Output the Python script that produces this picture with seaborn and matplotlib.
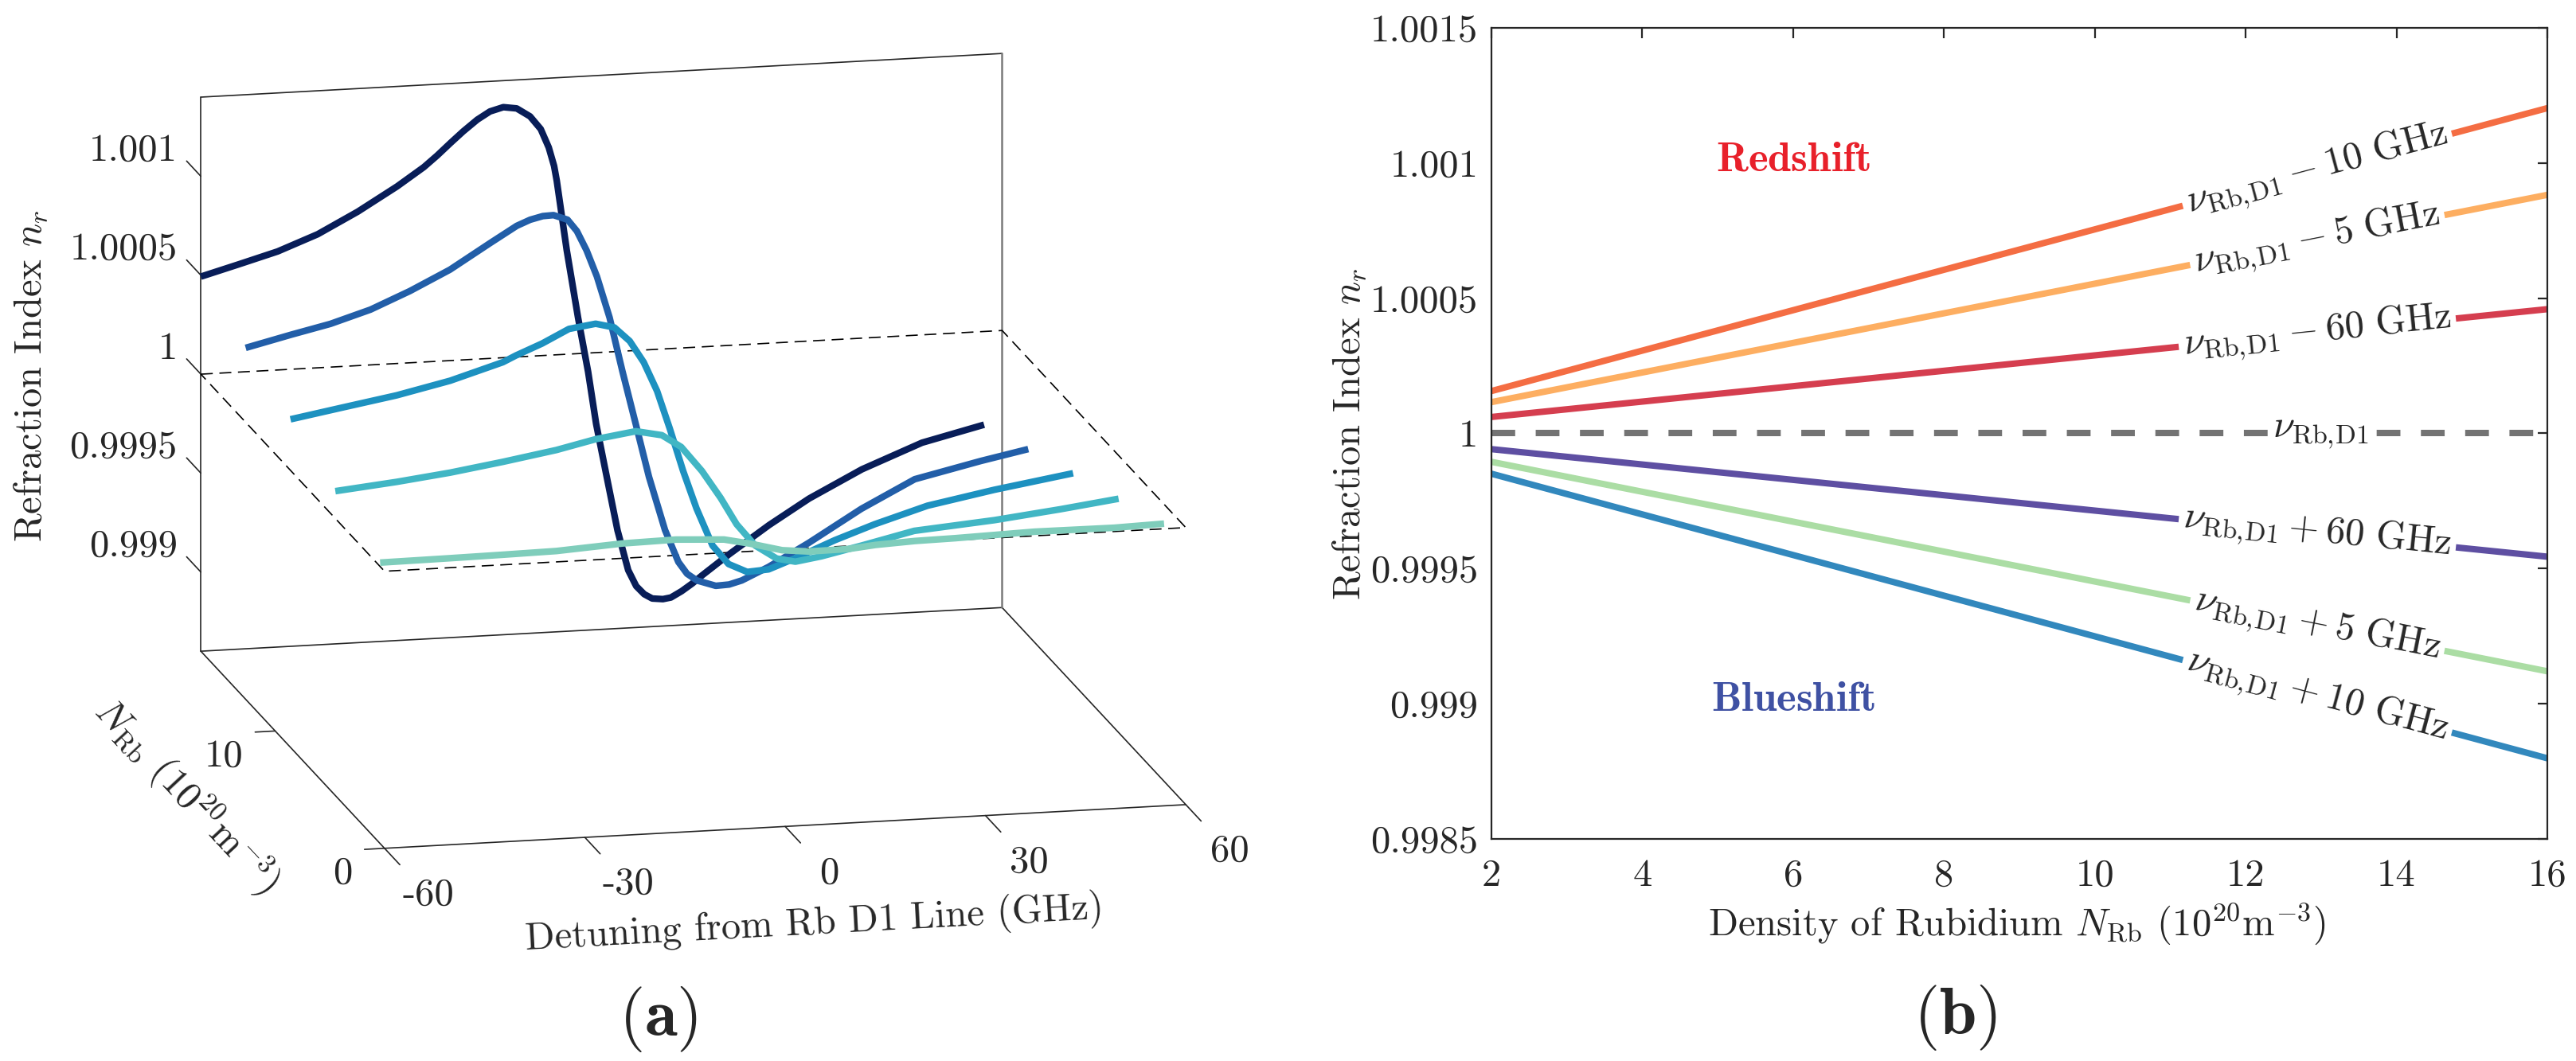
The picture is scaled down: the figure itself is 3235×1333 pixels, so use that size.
import numpy as np
import pandas as pd
import matplotlib
matplotlib.use("Agg")
import matplotlib.pyplot as plt
import seaborn as sns

sns.set_theme(style="white")
plt.rcParams["font.family"] = ["cmr10", "DejaVu Serif"]
plt.rcParams["mathtext.fontset"] = "cm"
plt.rcParams["axes.unicode_minus"] = False
plt.rcParams["axes.formatter.use_mathtext"] = True

# ---------------- panel (a): dispersion curves at several densities ----------------
densities_a = [16.8, 12.7, 8.6, 4.5, 0.4]
colors_a = ["#081d58", "#225ea8", "#1d91c0", "#41b6c4", "#7fcdbb"]

det_a1 = [-60, -54.4, -48.5, -42.5, -36.5, -30.6, -26.6, -24.6, -22.6, -20.7, -18.6, -16.7,
          -14.7, -12.7, -10.7, -9.1, -7.9, -7.1, -6.7, -5.2, -3.5, -2.0, -0.8, 0.8, 2.4, 4.0,
          5.2, 6.4, 7.6, 9.2, 10.4, 12.0, 13.6, 15.1, 19.1, 25.1, 31.1, 39.0, 48.0, 57.3]
n_a1 = [1.000493, 1.000544, 1.000599, 1.000675, 1.000778, 1.000895, 1.000985, 1.001040,
        1.001100, 1.001155, 1.001210, 1.001248, 1.001266, 1.001256, 1.001212, 1.001145,
        1.001050, 1.000955, 1.000880, 1.000525, 1.00018, 0.999905, 0.99964, 0.999367,
        0.999096, 0.998892, 0.998809, 0.998766, 0.998742, 0.998736, 0.998742, 0.998771,
        0.998807, 0.998846, 0.998944, 0.999081, 0.999204, 0.999337, 0.999455, 0.999529]

det_a2 = [-60, -53.2, -47.3, -41.3, -35.4, -29.4, -23.4, -19.4, -17.4, -15.5, -13.9, -11.8,
          -10.4, -8.95, -7.4, -5.5, -3.6, -1.6, 0.4, 2.8, 4.8, 6.1, 7.6, 10.4, 12.4, 14.3,
          18.3, 24.3, 32.2, 40.2, 50.1, 57.2]
n_a2 = [1.000376, 1.00043, 1.000474, 1.000535, 1.000618, 1.000715, 1.000838, 1.000918,
        1.000945, 1.000960, 1.000962, 1.000935, 1.000875, 1.000775, 1.000640, 1.000429,
        1.000157, 0.999886, 0.999613, 0.99934, 0.999175, 0.999113, 0.999076, 0.999044,
        0.999047, 0.999064, 0.999125, 0.999235, 0.999393, 0.999528, 0.999602, 0.999649]

det_a3 = [-60, -52.1, -44.1, -36.1, -28.2, -26.2, -22.3, -18.3, -14.3, -11.5, -9.2, -7.1,
          -5.1, -3.2, -1.2, 0.8, 3.2, 5.6, 8.4, 11.6, 15.5, 21.5, 27.5, 35.4, 45.4, 57.2]
n_a3 = [1.000258, 1.000304, 1.00035, 1.000409, 1.000488, 1.000519, 1.000572, 1.000638,
        1.000657, 1.000633, 1.00056, 1.000449, 1.0003, 1.000107, 0.999889, 0.999696,
        0.999504, 0.999406, 0.999361, 0.999368, 0.999416, 0.999497, 0.999567, 0.999646,
        0.999708, 0.99977]

det_a4 = [-60, -50.8, -42.8, -34.9, -26.9, -21.0, -15.0, -11.1, -8.2, -5.1, -2.3, 0.1, 2.9,
          6.1, 8.9, 12.8, 18.8, 26.7, 38.7, 48.6, 57.3]
n_a4 = [1.000138, 1.000168, 1.0002, 1.00024, 1.000285, 1.000329, 1.000358, 1.000331,
        1.000266, 1.000139, 0.999998, 0.99986, 0.999747, 0.999676, 0.999655, 0.999675,
        0.999718, 0.999778, 0.99981, 0.999847, 0.999884]

det_a5 = [-60, -49.5, -41.6, -33.6, -23.7, -15.7, -8.5, -4.6, 0.2, 4.2, 10.2, 14.2, 20.1,
          26.1, 38.0, 49.9, 57.4]
n_a5 = [1.00002, 1.000023, 1.000026, 1.00003, 1.00005, 1.000055, 1.000042, 1.000014,
        0.999972, 0.999958, 0.99996, 0.999973, 0.999982, 0.999985, 0.999996, 0.999994,
        1.000001]

det_curves = [det_a1, det_a2, det_a3, det_a4, det_a5]
n_curves = [n_a1, n_a2, n_a3, n_a4, n_a5]

xlim_a = (-60, 60)
ylim_a = (0, 16.8)
zlim_a = (0.9986, 1.0014)
xticks_a = [-60, -30, 0, 30, 60]
yticks_a = [0, 10]
zticks_a = [0.999, 0.9995, 1.0, 1.0005, 1.001]
zticklabels_a = ["0.999", "0.9995", "1", "1.0005", "1.001"]

# ---------------- panel (b): index vs density ----------------
density_b = [2, 16]
n_minus10 = [1.000156, 1.001203]
n_minus5 = [1.000115, 1.000882]
n_minus60 = [1.00006, 1.000459]
n_center = [1.0, 1.0]
n_plus60 = [0.999941, 0.999543]
n_plus5 = [0.999894, 0.999119]
n_plus10 = [0.99985, 0.998797]
names_b = ["-10", "-5", "-60", "+60", "+5", "+10"]
values_b = [n_minus10, n_minus5, n_minus60, n_plus60, n_plus5, n_plus10]
colors_b = ["#f46d43", "#fdae61", "#d53e4f", "#5e4fa2", "#abdda4", "#3288bd"]
nu = r"\nu_{\mathrm{Rb,\!D1}}"
labels_b = [rf"${nu} - 10\ \mathrm{{GHz}}$",
            rf"${nu} - 5\ \mathrm{{GHz}}$",
            rf"${nu} - 60\ \mathrm{{GHz}}$",
            rf"${nu} + 60\ \mathrm{{GHz}}$",
            rf"${nu} + 5\ \mathrm{{GHz}}$",
            rf"${nu} + 10\ \mathrm{{GHz}}$"]
yticks_b = [0.9985, 0.999, 0.9995, 1.0, 1.0005, 1.001, 1.0015]
yticklabels_b = ["0.9985", "0.999", "0.9995", "1", "1.0005", "1.001", "1.0015"]

W, H = 3235, 1333
fig = plt.figure(figsize=(W / 200, H / 200), dpi=200)
fs = 17.5
dark = "#262626"

# ================= (a) 3-D view =================
ax3 = fig.add_axes([0.0, 0.0, 0.55, 1.0], projection="3d")
ax3.set_proj_type("ortho")
ax3.view_init(elev=14.0, azim=-102.7)
box_aspect = (1031.3, 1049.0, 717.3)
zoom = 1.0
ax3.set_box_aspect(box_aspect, zoom=zoom)
ax3.set_axis_off()
ax3.patch.set_alpha(0)
ax3.computed_zorder = False
ax3.set_xlim(*xlim_a)
ax3.set_ylim(*ylim_a)
ax3.set_zlim(*zlim_a)

x0, x1 = xlim_a
y0, y1 = ylim_a
z0, z1 = zlim_a
# box edges (back wall + floor)
edges = [((x0, x0), (y1, y1), (z0, z1)), ((x0, x1), (y1, y1), (z1, z1)),
         ((x0, x1), (y1, y1), (z0, z0)), ((x0, x0), (y0, y1), (z0, z0)),
         ((x0, x1), (y0, y0), (z0, z0)), ((x1, x1), (y0, y1), (z0, z0))]
for ex, ey, ez in edges:
    ax3.plot(ex, ey, ez, color=dark, lw=0.6, zorder=1)
ax3.plot((x1, x1), (y1, y1), (z0, z1), color="#7a7a7a", lw=0.9, zorder=1)

# dashed outline of the n = 1 plane
ax3.plot([x0, x1, x1, x0, x0], [y1, y1, y0, y0, y1], [1, 1, 1, 1, 1],
         color="black", lw=0.6, ls=(0, (9, 5)), zorder=2)

for k, (dens, det, nv, col) in enumerate(zip(densities_a, det_curves, n_curves, colors_a)):
    ax3.plot(det, np.full(len(det), dens), nv, color=col, lw=3.0,
             solid_capstyle="butt", solid_joinstyle="round", zorder=3 + k)

# ticks and tick labels
for zt, lab in zip(zticks_a, zticklabels_a):
    ax3.plot((x0, x0), (y1, y1 + 1.3), (zt, zt), color=dark, lw=0.6, zorder=1)
    ax3.text(x0, y1 + 2.15, zt, lab, ha="right", va="center", fontsize=fs)
for xt in xticks_a:
    ax3.plot((xt, xt), (y0, y0 - 1.4), (z0, z0), color=dark, lw=0.6, zorder=1)
    ax3.text(xt, y0 - 4.0, z0, str(xt), ha="center", va="center", fontsize=fs)
for yt in yticks_a:
    ax3.plot((x0, x0 - 3.0), (yt, yt), (z0, z0), color=dark, lw=0.6, zorder=1)
    ax3.text(x0 - 4.8, yt, z0 - 0.00003, str(yt), ha="right", va="top", fontsize=fs)

# fit the projected box onto the reference position
corners = [(x0, y1, z0), (x1, y1, z0), (x0, y0, z0), (x1, y0, z0), (x0, y1, z1), (x1, y1, z1)]
target = np.array([[252.3, 818.3], [1258.3, 763.3], [483.3, 1066.0],
                   [1489.0, 1011.0], [252.3, 122.7], [1258.3, 66.0]])
target = np.column_stack([target[:, 0], H - target[:, 1]])


def projected(ax):
    fig.canvas.draw()
    M = ax.get_proj()
    pts = []
    for cx, cy, cz in corners:
        v = M @ np.array([cx, cy, cz, 1.0])
        pts.append(ax.transData.transform((v[0] / v[3], v[1] / v[3])))
    return np.array(pts), ax.transData.transform((0.0, 0.0))


for _ in range(3):
    cur, origin = projected(ax3)
    c = cur.mean(0)
    t = target.mean(0)
    s = np.sum((cur - c) * (target - t)) / np.sum((cur - c) ** 2)
    zoom *= s
    ax3.set_box_aspect(box_aspect, zoom=zoom)
    new_c = origin + s * (c - origin)
    shift = (t - new_c) / np.array([W, H])
    pos = ax3.get_position(original=True)
    ax3.set_position([pos.x0 + shift[0], pos.y0 + shift[1], pos.width, pos.height])

fig.text(38 / W, 1 - 472 / H, r"Refraction Index $n_r$", rotation=90,
         ha="center", va="center", fontsize=fs)
fig.text(1023 / W, 1 - 1161 / H, "Detuning from Rb D1 Line (GHz)", rotation=3.1,
         ha="center", va="center", fontsize=fs)
fig.text(235 / W, 1 - 1000 / H, r"$N_{\mathrm{Rb}}$ $(10^{20}\mathrm{m}^{-3})$", rotation=-47,
         ha="center", va="center", fontsize=fs)
fig.text(827 / W, 1 - 1280 / H, r"$(\mathbf{a})$", ha="center", va="center", fontsize=30)

# ================= (b) =================
axb = fig.add_axes([1873 / W, 1 - 1053.5 / H, 1326 / W, 1018.5 / H])
df_b = pd.DataFrame({
    "density": density_b * len(names_b),
    "n": [v for vals in values_b for v in vals],
    "line": [nm for nm in names_b for _ in density_b],
})
sns.lineplot(data=df_b, x="density", y="n", hue="line", palette=dict(zip(names_b, colors_b)),
             linewidth=2.9, legend=False, estimator=None, ax=axb)
sns.lineplot(x=density_b, y=n_center, color="#737373", linewidth=2.9,
             linestyle=(0, (3.7, 3.2)), ax=axb)

label_x = 12.95
for vals, lab in zip(values_b, labels_b):
    ly = vals[0] + (vals[1] - vals[0]) * (label_x - density_b[0]) / (density_b[1] - density_b[0])
    ang = np.degrees(np.arctan2(vals[1] - vals[0], density_b[1] - density_b[0]))
    axb.text(label_x, ly, lab, rotation=ang, transform_rotates_text=True,
             rotation_mode="anchor", ha="center", va="center", fontsize=fs,
             bbox=dict(boxstyle="square,pad=0.12", fc="white", ec="none"), zorder=5)
axb.text(12.99, 1.0, rf"${nu}$", ha="center", va="center", fontsize=fs,
         bbox=dict(boxstyle="square,pad=0.12", fc="white", ec="none"), zorder=5)

axb.text(6.0, 1.00101, r"$\mathbf{Redshift}$", color="#e8202a", ha="center", va="center",
         fontsize=19)
axb.text(6.0, 0.999013, r"$\mathbf{Blueshift}$", color="#3f51a3", ha="center", va="center",
         fontsize=19)

axb.set_xlim(2, 16)
axb.set_ylim(0.9985, 1.0015)
axb.set_xticks(range(2, 17, 2))
axb.set_xticklabels([str(v) for v in range(2, 17, 2)])
axb.set_yticks(yticks_b)
axb.set_yticklabels(yticklabels_b)
axb.tick_params(direction="in", top=True, right=True, length=4.5, width=0.8,
                color=dark, labelsize=fs, labelcolor=dark)
axb.tick_params(axis="x", pad=9)
axb.tick_params(axis="y", pad=6)
for sp in axb.spines.values():
    sp.set_color(dark)
    sp.set_linewidth(0.8)
axb.set_xlabel("")
axb.set_ylabel("")
fig.text(1694 / W, 1 - 545 / H, r"Refraction Index $n_r$", rotation=90,
         ha="center", va="center", fontsize=fs)
fig.text(2533 / W, 1 - 1161 / H, r"Density of Rubidium $N_{\mathrm{Rb}}$ $(10^{20}\mathrm{m}^{-3})$",
         ha="center", va="center", fontsize=fs)
fig.text(2455 / W, 1 - 1278 / H, r"$(\mathbf{b})$", ha="center", va="center", fontsize=30)

fig.savefig("out.png", dpi=200)
